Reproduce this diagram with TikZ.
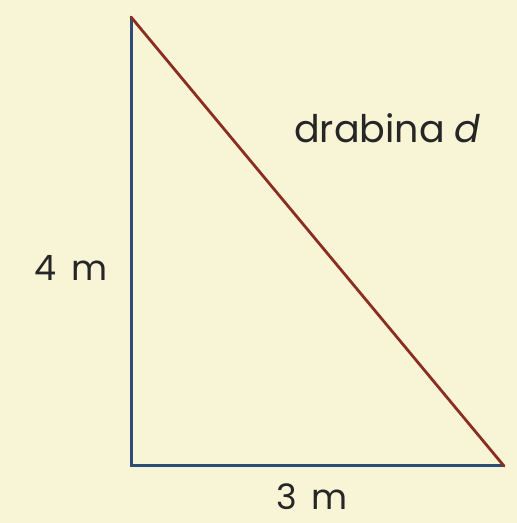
\documentclass[tikz,border=0pt]{standalone}
\usepackage{fontspec}
\setmainfont{Poppins}
\definecolor{bg}{HTML}{F8F4D6}
\definecolor{legblue}{HTML}{2C4E76}
\definecolor{ladder}{HTML}{8A2E22}
\definecolor{txt}{HTML}{262626}
\begin{document}
\begin{tikzpicture}[x=1pt,y=1pt,
  leg/.style={draw=legblue,line width=3pt},
  hyp/.style={draw=ladder,line width=2.8pt,line cap=round},
  lbl/.style={text=txt,font=\fontsize{35}{40}\selectfont,inner sep=0pt}]
\fill[bg] (0,0) rectangle (517,523);
\useasboundingbox (0,0) rectangle (517,523);
\coordinate (A) at (131,506);
\coordinate (C) at (131,57);
\coordinate (B) at (504,57);
\draw[leg] (A) -- (C) -- (B);
\draw[hyp] (A) -- (B);
\node[lbl,font=\fontsize{38}{44}\selectfont] (d) at (387.5,395) {drabina \textit{d}};
\node[lbl] (h) at (71,255) {4\, m};
\node[lbl] (w) at (312,26) {3\, m};
\end{tikzpicture}
\end{document}
